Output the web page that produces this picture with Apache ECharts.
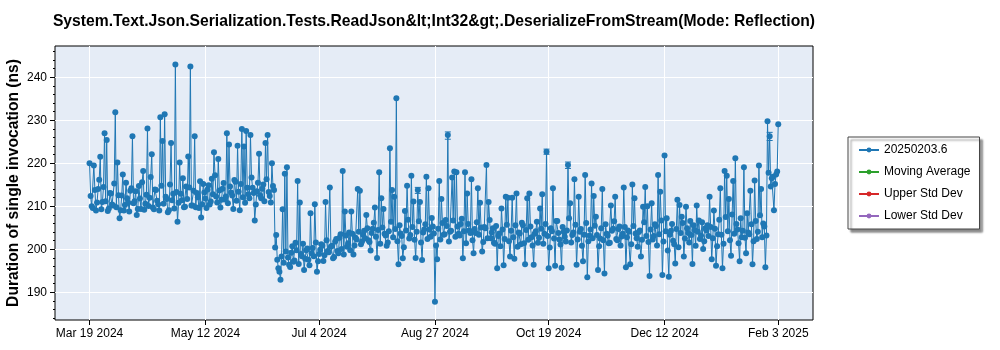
<!DOCTYPE html>
<html><head><meta charset="utf-8">
<script src="https://cdn.jsdelivr.net/npm/echarts@6/dist/echarts.min.js"></script>
<style>html,body{margin:0;padding:0;background:#fff}#c{width:1000px;height:350px}</style>
</head><body><div id="c"></div>
<script>
const titleText = 'System.Text.Json.Serialization.Tests.ReadJson&lt;Int32&gt;.DeserializeFromStream(Mode: Reflection)';
const yAxisTitle = 'Duration of single invocation (ns)';
const startDate = '2024-03-19'; // runs: one in the morning (values) and one at midday (values2) per day
// morning runs, day 0 .. 321
const values = [
 220, 210, 219.5, 209, 214, 221.5, 211, 227, 225.4, 209.5,
 213, 210.2, 231.9, 220.2, 207.2, 212.5, 209, 215.5, 210.8, 213.6,
 226.3, 211.2, 208, 214.7, 209.4, 218.2, 210.6, 228.1, 212, 222.1,
 209.3, 213.8, 210.5, 230.7, 225.2, 231.4, 211.7, 209.1, 224.7, 212.9,
 243, 206.4, 220.2, 211.4, 209.8, 214.6, 221.6, 242.5, 210.2, 226.3,
 213.1, 209.6, 207.4, 215.2, 211.8, 213.9, 210.4, 216.4, 222.6, 212.3,
 221, 209.7, 214.1, 211.6, 227, 224.4, 213.2, 209.4, 215.7, 224.1,
 209.1, 228, 223.9, 227.5, 212.8, 226.6, 214.3, 206.7, 213.5, 222.2,
 211.9, 215.1, 224.7, 226.6, 212.4, 220, 213.8, 203.3, 195.6, 192.9,
 209.3, 217.6, 219.1, 196.4, 199.2, 197.1, 201.5, 215.9, 210.9, 198.4,
 195.2, 199.8, 197.6, 208.4, 200.3, 210.5, 194.8, 198.9, 201.2, 197.3,
 211, 199.6, 214.4, 200.8, 198.2, 202.4, 199.1, 203.5, 218.2, 208.8,
 200.6, 203.9, 208.8, 198.8, 202.7, 214, 213.6, 201.8, 204.3, 208,
 202.1, 199.7, 204.8, 209.7, 198, 217.9, 211.9, 209.4, 203.2, 201.6,
 223.5, 213.8, 212.2, 235.1, 196.5, 203.7, 197.9, 208.9, 214.8, 202.5,
 217.1, 211.1, 198, 213.8, 211, 197.5, 204.6, 216.9, 214.2, 202.9,
 205.3, 187.8, 197.7, 215.9, 211.7, 203.4, 206.8, 226.6, 204.1, 216.7,
 218.1, 217.9, 203.6, 205.9, 197.9, 217.9, 213, 204.4, 216.3, 199.1,
 203.8, 214.2, 210.8, 199.5, 205.2, 219.6, 211, 202.6, 204.9, 201.3,
 195.6, 203.7, 209.5, 196.3, 212.2, 212, 198.3, 212, 197.8, 213,
 203.9, 201.2, 205.6, 196.5, 211.9, 213, 202.8, 196.4, 204.2, 201.5,
 209.5, 212.8, 203.6, 222.7, 195.6, 204.9, 214.2, 196.2, 206.6, 202.3,
 195.7, 204.1, 201.8, 219.6, 210.7, 203.3, 216.3, 196.4, 212.2, 204.7,
 197.2, 217.3, 193.5, 203.2, 215.3, 212.4, 207.6, 195.2, 202.5, 214,
 194.4, 203.6, 201.4, 210.2, 204.8, 212.2, 202.1, 205.3, 203, 214.4,
 195.8, 204.4, 196.5, 215.1, 211.9, 202.6, 204, 198.3, 209.9, 214.5,
 210, 193.8, 210.7, 203.1, 205.4, 217.3, 213.4, 194, 221.8, 207.2,
 193.6, 204.3, 202, 196.7, 211.5, 210.3, 207.6, 198.3, 209.9, 203.8,
 206.6, 196.6, 204.5, 210.2, 206.7, 203.2, 200.1, 204.9, 205.6, 212.2,
 197.7, 209, 196.2, 203.5, 214.2, 195.6, 218.2, 217.1, 211.7, 198.5,
 215.9, 221.2, 204.6, 197.2, 202.8, 219.1, 199.1, 203.9, 213.6, 196.5,
 216, 202.4, 219.5, 214, 206, 195.8, 229.8, 226.3, 216.5, 209.1,
 217.4, 229.1
];
// midday runs, day 0 .. 320
const values2 = [
 212.4, 209.6, 213.8, 210.9, 216.2, 209.3, 214.5, 211.2, 208.9, 213.1,
 210.4, 215.3, 209.8, 212.6, 209.1, 217.4, 210.3, 211.9, 208.8, 214.2,
 210.7, 213.5, 209.4, 211.8, 215.6, 209.2, 212.7, 210.1, 216.8, 209.7,
 213.9, 211.3, 209, 214.8, 210.6, 212.2, 208.6, 215.1, 211.4, 209.5,
 213.3, 210.8, 212.9, 216.5, 209.9, 211.7, 214.4, 210.2, 213.6, 209.8,
 212.1, 215.8, 210.5, 213.2, 209.6, 214.9, 211.1, 212.8, 217.2, 210.9,
 213.7, 211.5, 215.4, 212.3, 210.7, 214.6, 212.5, 216.1, 211.3, 213.4,
 215.2, 212.1, 210.8, 214.3, 211.9, 216.7, 213.1, 210.4, 215.5, 212.6,
 214.1, 211.2, 216.3, 213.3, 210.9, 214.7, 200.4, 197.6, 194.8, 198.3,
 196.9, 199.5, 198.1, 195.9, 200.7, 197.4, 199.8, 196.6, 198.9, 201.3,
 197.8, 200.2, 196.3, 199.1, 198.4, 201.6, 197.2, 199.9, 200.8, 198.6,
 202.1, 199.3, 200.6, 197.9, 201.8, 199.6, 202.7, 200.1, 198.8, 203.2,
 201.4, 199.8, 203.6, 200.9, 202.3, 204.1, 201.2, 203.4, 202.6, 204.9,
 201.7, 203.8, 206.2, 202.9, 204.5, 201.3, 205.1, 203.6, 200.8, 204.2,
 206.4, 202.8, 204.7, 201.9, 205.6, 203.1, 200.5, 204.4, 206.9, 203.3,
 205.2, 202.2, 204.1, 206.5, 201.6, 203.9, 205.8, 202.4, 204.6, 207.3,
 203.7, 200.9, 204.8, 202.3, 206.1, 203.5, 205.4, 201.8, 204.3, 206.7,
 202.9, 205.3, 203.2, 207.1, 204.2, 201.4, 205.9, 203.8, 202.1, 204.7,
 206.3, 203.4, 205.1, 201.7, 204.9, 202.6, 206.8, 203.9, 201.5, 205.4,
 203.1, 200.7, 204.6, 202.4, 205.7, 201.9, 204.3, 202.8, 205.6, 200.6,
 203.7, 206.2, 201.4, 204.5, 202.2, 205.3, 200.9, 203.6, 206.4, 202.7,
 204.8, 201.3, 205.9, 203.1, 200.4, 204.2, 202.5, 206.6, 203.8, 201.1,
 205.2, 202.9, 204.4, 207.2, 201.6, 203.9, 205.7, 202.3, 204.1, 200.8,
 203.4, 206.1, 201.9, 204.6, 202.6, 205.5, 203.3, 200.7, 204.9, 202.1,
 205.8, 203.2, 201.5, 204.3, 206.5, 202.4, 204.7, 200.9, 203.6, 205.2,
 202.8, 204.1, 201.2, 205.4, 203.7, 200.6, 204.4, 202.2, 206.3, 203.1,
 201.7, 204.6, 202.3, 205.8, 200.9, 203.5, 206.7, 201.8, 204.2, 199.7,
 203.4, 205.9, 201.2, 204.7, 200.5, 203.8, 206.1, 202.5, 204.9, 201.6,
 203.3, 205.6, 200.8, 204.1, 202.4, 206.3, 201.9, 204.4, 203.1, 205.2,
 202.6, 204.8, 200.7, 206.9, 203.4, 201.3, 207.5, 204.2, 202.1, 208.1,
 203.6, 205.9, 201.4, 207.2, 204.3, 202.7, 208.4, 203.5, 205.8, 201.9,
 206.6, 204.1, 207.9, 202.8, 205.3, 203.2, 217.8, 214.6, 216.9, 215.2,
 218.1
];
const errDays = [153, 167, 213, 223, 317];
const errLow = [213.0, 225.6, 222.1, 218.8, 225.3];
const errHigh = [214.4, 227.3, 223.3, 220.3, 227.2];
const xTickDates = ['2024-03-19', '2024-05-12', '2024-07-04', '2024-08-27', '2024-10-19', '2024-12-12', '2025-02-03'];
const xRangeDays = [-16.1, 337.2];
const yTicks = [190, 200, 210, 220, 230, 240];
const yMinorTicks = [184, 186, 188, 192, 194, 196, 198, 202, 204, 206, 208, 212, 214, 216, 218, 222, 224, 226, 228, 232, 234, 236, 238, 242, 244, 246];
const yRange = [183.56, 247.28];
const legendNames = ['20250203.6', 'Moving Average', 'Upper Std Dev', 'Lower Std Dev'];
const seriesColors = ['#1f77b4', '#2ca02c', '#d62728', '#9467bd'];

const DAY = 86400000;
const t0 = Date.parse(startDate + 'T00:00:00Z');
const MONTHS = ['Jan','Feb','Mar','Apr','May','Jun','Jul','Aug','Sep','Oct','Nov','Dec'];
function fmtDate(v) {
  const d = new Date(v);
  return MONTHS[d.getUTCMonth()] + ' ' + d.getUTCDate() + ' ' + d.getUTCFullYear();
}
const xTicks = xTickDates.map(s => Date.parse(s + 'T00:00:00Z'));
const mainData = [];
values.forEach((v, i) => {
  mainData.push([t0 + i * DAY, v]);
  if (i < values2.length) mainData.push([t0 + (i + 0.5) * DAY, values2[i]]);
});
const errData = errDays.map((d, i) => [t0 + d * DAY, errLow[i], errHigh[i]]);
const FONT = 'Liberation Sans';

const chart = echarts.init(document.getElementById('c'), null, {renderer: 'canvas'});
chart.setOption({
  animation: false,
  backgroundColor: '#ffffff',
  title: {
    text: titleText, left: 429, top: 9, textAlign: 'center',
    textStyle: {fontFamily: FONT, fontWeight: 'bold', fontSize: 15.7, color: '#000'}
  },
  legend: {
    orient: 'vertical', left: 848, top: 137,
    padding: [7, 9, 7, 10], itemGap: 10, itemWidth: 20, itemHeight: 6,
    backgroundColor: '#ffffff', borderColor: '#444', borderWidth: 1,
    shadowColor: 'rgba(0,0,0,0.45)', shadowBlur: 2, shadowOffsetX: 3, shadowOffsetY: 3,
    textStyle: {fontFamily: FONT, fontSize: 12, color: '#000'},
    data: legendNames
  },
  grid: {
    left: 55, right: 187, top: 46, bottom: 30, show: true, containLabel: false, outerBoundsMode: 'none',
    backgroundColor: '#e5ecf6', borderColor: '#000', borderWidth: 1
  },
  xAxis: {
    type: 'value', min: t0 + xRangeDays[0] * DAY, max: t0 + xRangeDays[1] * DAY,
    axisLine: {show: false},
    axisTick: {show: true, customValues: xTicks, length: 5, lineStyle: {color: '#000'}},
    axisLabel: {customValues: xTicks, formatter: fmtDate, fontFamily: FONT, fontSize: 12, color: '#000', margin: 8},
    splitLine: {show: true, lineStyle: {color: '#ffffff', width: 1}}
  },
  yAxis: [{
    type: 'value', min: yRange[0], max: yRange[1],
    name: yAxisTitle, nameLocation: 'middle', nameGap: 33, nameMoveOverlap: false,
    nameTextStyle: {fontFamily: FONT, fontWeight: 'bold', fontSize: 15.6, color: '#000'},
    axisLine: {show: false},
    axisTick: {show: true, customValues: yTicks, length: 5, lineStyle: {color: '#000'}},
    axisLabel: {customValues: yTicks, fontFamily: FONT, fontSize: 12, color: '#000', margin: 8},
    splitLine: {show: true, lineStyle: {color: '#ffffff', width: 1}}
  }, {
    type: 'value', min: yRange[0], max: yRange[1], position: 'left',
    axisLine: {show: false},
    axisTick: {show: true, customValues: yMinorTicks, length: 2, lineStyle: {color: '#000'}},
    axisLabel: {show: false}, splitLine: {show: false}
  }],
  series: [
    {
      name: legendNames[0], type: 'line', data: mainData,
      symbol: 'circle', symbolSize: 6, showSymbol: true,
      color: seriesColors[0], lineStyle: {width: 1, color: seriesColors[0]},
      itemStyle: {color: seriesColors[0]}
    },
    {
      type: 'custom', data: errData, encode: {x: 0, y: [1, 2]}, silent: true, z: 3,
      renderItem: function (params, api) {
        const x = api.value(0);
        const p1 = api.coord([x, api.value(1)]);
        const p2 = api.coord([x, api.value(2)]);
        const w = 3, st = {stroke: seriesColors[0], lineWidth: 1};
        return {type: 'group', children: [
          {type: 'line', shape: {x1: p1[0], y1: p1[1], x2: p2[0], y2: p2[1]}, style: st},
          {type: 'line', shape: {x1: p1[0] - w, y1: p1[1], x2: p1[0] + w, y2: p1[1]}, style: st},
          {type: 'line', shape: {x1: p2[0] - w, y1: p2[1], x2: p2[0] + w, y2: p2[1]}, style: st}
        ]};
      }
    },
    {name: legendNames[1], type: 'line', data: [], symbol: 'circle', symbolSize: 6, color: seriesColors[1], lineStyle: {width: 1}},
    {name: legendNames[2], type: 'line', data: [], symbol: 'circle', symbolSize: 6, color: seriesColors[2], lineStyle: {width: 1}},
    {name: legendNames[3], type: 'line', data: [], symbol: 'circle', symbolSize: 6, color: seriesColors[3], lineStyle: {width: 1}}
  ]
});
</script>
</body></html>
